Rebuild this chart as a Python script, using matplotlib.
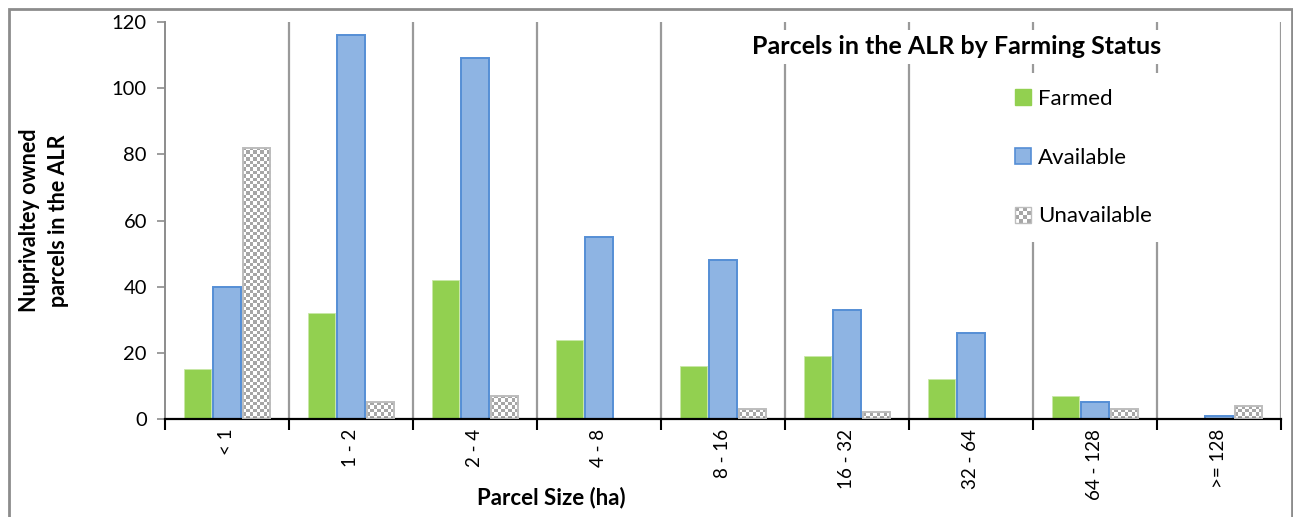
import matplotlib
matplotlib.use('Agg')
import matplotlib.pyplot as plt
import numpy as np
from matplotlib.patches import Patch, Rectangle
from matplotlib.colors import ListedColormap
from matplotlib.legend_handler import HandlerBase

plt.rcParams['font.family'] = ['Lato', 'DejaVu Sans']

sizes = ['< 1', '1 - 2', '2 - 4', '4 - 8', '8 - 16', '16 - 32', '32 - 64', '64 - 128', '>= 128']
farmed = [15, 32, 42, 24, 16, 19, 12, 7, 0]
available = [40, 116, 109, 55, 48, 33, 26, 5, 1]
unavailable = [82, 5, 7, 0, 3, 2, 0, 3, 4]

green = '#92D050'
blue_fill = '#8EB4E3'
blue_edge = '#558ED5'
chk_gray = '#a6a6a6'
grid_gray = '#9a9a9a'

W, H = 1293, 517
fig = plt.figure(figsize=(W / 100, H / 100), dpi=100)

# outer chart border
fig.patches.append(Rectangle((9 / W, -0.05), (1292 - 9) / W, 1.05 - 9 / H,
                             transform=fig.transFigure, fill=False,
                             edgecolor='#8c8c8c', linewidth=2))

ax = fig.add_axes([165 / W, 1 - 419 / H, (1281 - 165) / W, (419 - 22) / H])
x = np.arange(len(sizes))
bw = 0.22
off = 0.236

ax.set_xlim(-0.5, len(sizes) - 0.5)
ax.set_ylim(0, 120)

# vertical separators between categories
for b in np.arange(0.5, len(sizes), 1.0):
    ax.axvline(b, color=grid_gray, linewidth=1.6, zorder=0)

ax.bar(x - off, farmed, bw, color=green, edgecolor='#c9e8a8',
       linewidth=[0.6 if v > 0 else 0 for v in farmed], zorder=2)
ax.bar(x, available, bw, color=blue_fill, edgecolor=blue_edge,
       linewidth=[1.4 if v > 0 else 0 for v in available], zorder=2)

# checkerboard bars for "Unavailable"
cmap = ListedColormap(['white', chk_gray])
cell = 3.4
for i, v in enumerate(unavailable):
    if v <= 0:
        continue
    x0 = i + off - bw / 2
    p0 = ax.transData.transform((x0, 0))
    p1 = ax.transData.transform((x0 + bw, v))
    nx = max(1, int(round((p1[0] - p0[0]) / cell)))
    ny = max(1, int(round((p1[1] - p0[1]) / cell)))
    arr = np.add.outer(np.arange(ny), np.arange(nx)) % 2
    ax.imshow(arr, cmap=cmap, extent=(x0, x0 + bw, 0, v), aspect='auto',
              interpolation='nearest', zorder=2, origin='lower')
ax.bar(x + off, unavailable, bw, facecolor='none', edgecolor='#bdbdbd',
       linewidth=[1.4 if v > 0 else 0 for v in unavailable], zorder=3)

ax.set_xlim(-0.5, len(sizes) - 0.5)
ax.set_ylim(0, 120)
ax.set_aspect('auto')

# axes styling
for s in ['top', 'right']:
    ax.spines[s].set_visible(False)
ax.spines['left'].set_color('#8c8c8c')
ax.spines['left'].set_linewidth(1.4)
ax.spines['bottom'].set_color('black')
ax.spines['bottom'].set_linewidth(1.6)

ax.set_yticks(range(0, 121, 20))
ax.tick_params(axis='y', direction='out', length=6, width=1.2, color='#8c8c8c',
               labelsize=14.5, pad=7)
ax.set_xticks(x)
ax.set_xticklabels(sizes, rotation=90, fontsize=13.5)
ax.tick_params(axis='x', which='major', length=0, pad=7)
ax.set_xticks(np.arange(-0.5, len(sizes), 1.0), minor=True)
ax.tick_params(axis='x', which='minor', direction='out', length=8, width=1.5, color='black')

ax.set_ylabel('Nuprivaltey owned\nparcels in the ALR', fontsize=15.5, fontweight='bold',
              linespacing=1.45)
ax.yaxis.set_label_coords((69 - 165) / (1281 - 165), 0.5)

fig.text(551 / W, 1 - 498 / H, 'Parcel Size (ha)', fontsize=16, fontweight='bold',
         ha='center', va='center')

ax.text(957 / W, 1 - 47 / H, 'Parcels in the ALR by Farming Status', transform=fig.transFigure,
        fontsize=18, fontweight='bold', ha='center', va='center', zorder=5,
        bbox=dict(facecolor='white', edgecolor='none', pad=4))


class CheckerHandler(HandlerBase):
    def create_artists(self, legend, orig_handle, xdescent, ydescent, width, height,
                       fontsize, trans):
        arts = []
        n = 4
        cw = width / n
        ch = height / n
        for r in range(n):
            for c in range(n):
                col = chk_gray if (r + c) % 2 else 'white'
                arts.append(Rectangle((-xdescent + c * cw, -ydescent + r * ch), cw, ch,
                                      facecolor=col, edgecolor='none', transform=trans))
        arts.append(Rectangle((-xdescent, -ydescent), width, height, facecolor='none',
                              edgecolor='#bdbdbd', linewidth=1, transform=trans))
        return arts


handles = [Patch(facecolor=green, edgecolor=green),
           Patch(facecolor=blue_fill, edgecolor=blue_edge, linewidth=1.2),
           Patch(facecolor='white')]
leg = ax.legend(handles, ['Farmed', 'Available', 'Unavailable'],
                handler_map={handles[2]: CheckerHandler()},
                loc='upper left', bbox_to_anchor=(988 / W, 1 - 62 / H),
                bbox_transform=fig.transFigure,
                fontsize=16, handlelength=0.75, handleheight=0.75, handletextpad=0.3,
                labelspacing=1.75, borderpad=0.7, frameon=True, fancybox=False)
leg.get_frame().set_facecolor('white')
leg.get_frame().set_edgecolor('none')
leg.get_frame().set_alpha(1)
leg.set_zorder(5)

fig.savefig('out.png', dpi=100)
